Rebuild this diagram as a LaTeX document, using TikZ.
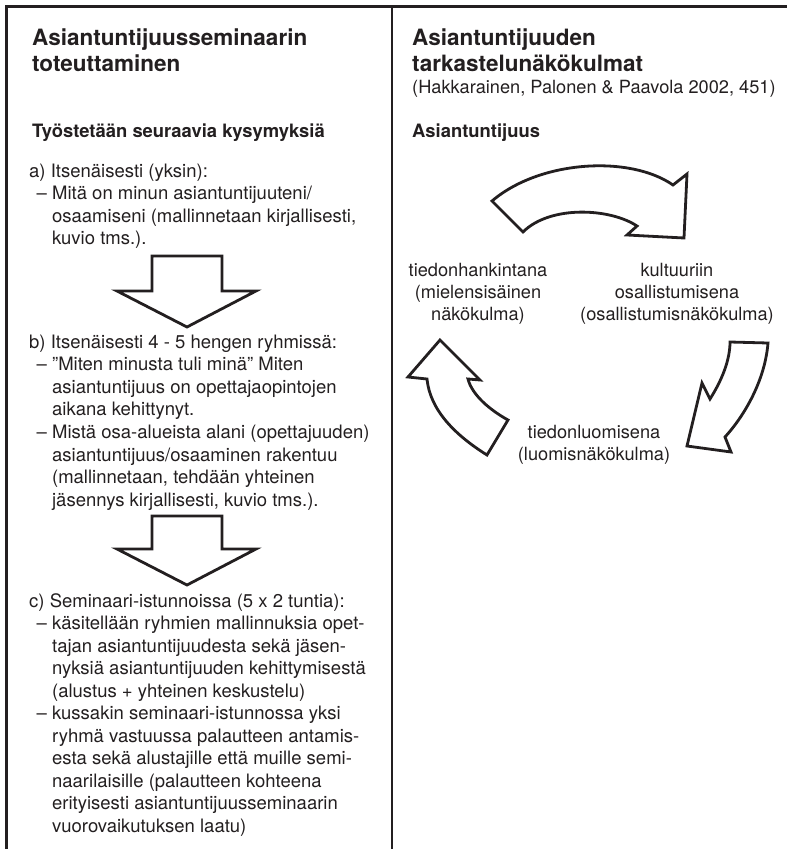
\documentclass[tikz,border=0pt]{standalone}
\usepackage{fontspec}
\setmainfont{TeX Gyre Heros}
\definecolor{ink}{RGB}{35,31,32}
\tikzset{
  ttl/.style={anchor=base west, inner sep=0pt, font=\fontsize{22.5}{27}\selectfont\bfseries, text=ink},
  sub/.style={anchor=base west, inner sep=0pt, font=\fontsize{18.4}{22}\selectfont\bfseries, text=ink},
  body/.style={anchor=base west, inner sep=0pt, font=\fontsize{18.5}{22}\selectfont, text=ink},
  rbody/.style={anchor=base west, inner sep=0pt, font=\fontsize{18.2}{22}\selectfont, text=ink},
  lbl/.style={anchor=base, inner sep=0pt, font=\fontsize{18.2}{22}\selectfont, text=ink},
  rulel/.style={draw=ink, line width=2.8pt},
  bigarrow/.style={draw=ink, line width=2.8pt, fill=white, line join=miter},
}
\newcommand{\ind}{\hphantom{– }}
\begin{document}
\begin{tikzpicture}[x=1pt,y=-1pt]
\useasboundingbox (0,0) rectangle (787,849);
% frame
\draw[rulel] (5.1,6.5) -- (787,6.5);
\draw[rulel] (6.5,6.5) -- (6.5,849);
\draw[rulel] (392,6.5) -- (392,849);

% left column
\node[ttl] (lt1) at (32,45) {Asiantuntijuusseminaarin};
\node[ttl] (lt2) at (32,71) {toteuttaminen};
\node[sub] (ls) at (32,137) {Työstetään seuraavia kysymyksiä};

\node[body] (a0) at (29,177) {a) Itsenäisesti (yksin):};
\node[body] (a1) at (36.5,199.5) {– Mitä on minun asiantuntijuuteni/};
\node[body] (a2) at (36.5,222) {\ind osaamiseni (mallinnetaan kirjallisesti,};
\node[body] (a3) at (36.5,244.5) {\ind kuvio tms.).};

\draw[bigarrow] (152,256) -- (222,256) -- (222,291) -- (256,291) -- (187,327) -- (117,291) -- (152,291) -- cycle;

\node[body] (b0) at (29,348) {b) Itsenäisesti 4 - 5 hengen ryhmissä:};
\node[body] (b1) at (36.5,370.6) {– ”Miten minusta tuli minä” Miten};
\node[body] (b2) at (36.5,393.2) {\ind asiantuntijuus on opettajaopintojen};
\node[body] (b3) at (36.5,415.8) {\ind aikana kehittynyt.};
\node[body] (b4) at (36.5,438.4) {– Mistä osa-alueista alani (opettajuuden)};
\node[body] (b5) at (36.5,461) {\ind asiantuntijuus/osaaminen rakentuu};
\node[body] (b6) at (36.5,483.6) {\ind (mallinnetaan, tehdään yhteinen};
\node[body] (b7) at (36.5,506.2) {\ind jäsennys kirjallisesti, kuvio tms.).};

\draw[bigarrow] (152,516) -- (222,516) -- (222,549) -- (256,549) -- (187,585) -- (117,549) -- (152,549) -- cycle;

\node[body] (c0) at (29,607) {c) Seminaari-istunnoissa (5 x 2 tuntia):};
\node[body] (c1) at (36.5,629.5) {– käsitellään ryhmien mallinnuksia opet-};
\node[body] (c2) at (36.5,652) {\ind tajan asiantuntijuudesta sekä jäsen-};
\node[body] (c3) at (36.5,674.5) {\ind nyksiä asiantuntijuuden kehittymisestä};
\node[body] (c4) at (36.5,697) {\ind (alustus + yhteinen keskustelu)};
\node[body] (c5) at (36.5,719.5) {– kussakin seminaari-istunnossa yksi};
\node[body] (c6) at (36.5,742) {\ind ryhmä vastuussa palautteen antamis-};
\node[body] (c7) at (36.5,764.5) {\ind esta sekä alustajille että muille semi-};
\node[body] (c8) at (36.5,787) {\ind naarilaisille (palautteen kohteena};
\node[body] (c9) at (36.5,809.5) {\ind erityisesti asiantuntijuusseminaarin};
\node[body] (c10) at (36.5,832) {\ind vuorovaikutuksen laatu)};

% right column
\node[ttl] (rt1) at (412,45) {Asiantuntijuuden};
\node[ttl] (rt2) at (412,71) {tarkastelunäkökulmat};
\node[rbody] (rc) at (412,93) {(Hakkarainen, Palonen \& Paavola 2002, 451)};
\node[sub] (rs) at (412,137) {Asiantuntijuus};

% cycle labels
\node[lbl] (L1) at (478,276) {tiedonhankintana};
\node[lbl] (L2) at (478,298) {(mielensisäinen};
\node[lbl] (L3) at (478,320) {näkökulma)};
\node[lbl] (R1) at (677,276) {kultuuriin};
\node[lbl] (R2) at (677,298) {osallistumisena};
\node[lbl] (R3) at (677,320) {(osallistumisnäkökulma)};
\node[lbl] (B1) at (594,438) {tiedonluomisena};
\node[lbl] (B2) at (594,460) {(luomisnäkökulma)};

% curved arrows
\draw[bigarrow] (492,201) .. controls (540,160) and (630,155) .. (673,185)
  -- (687,174) -- (684,238) -- (627,235) -- (637,226)
  .. controls (610,208) and (550,205) .. (523,232) -- cycle;
\draw[bigarrow] (730,342) -- (768,343) .. controls (765,380) and (745,415) .. (725,437)
  -- (731,452) -- (687,446) -- (702,383) -- (710,399)
  .. controls (722,380) and (730,360) .. (730,342) -- cycle;
\draw[bigarrow] (440,340) -- (408,377) -- (427,379) .. controls (430,410) and (455,435) .. (487,455)
  -- (508,420) .. controls (490,410) and (472,395) .. (468,379) -- (480,380) -- cycle;
\end{tikzpicture}
\end{document}
